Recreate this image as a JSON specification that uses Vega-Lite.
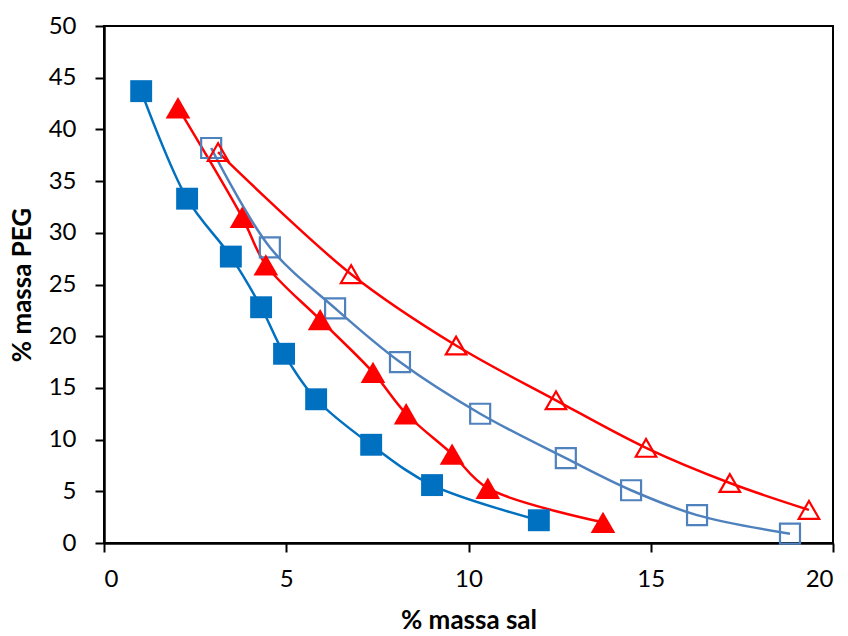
{
  "$schema": "https://vega.github.io/schema/vega-lite/v6.json",
  "width": 729,
  "height": 517,
  "autosize": {"type": "none"},
  "padding": {"left": 104, "top": 26, "right": 15, "bottom": 93},
  "background": "white",
  "config": {
    "font": "Lato",
    "view": {"stroke": "#000000", "strokeWidth": 2},
    "axis": {
      "grid": false,
      "domainColor": "#000000",
      "domainWidth": 2.5,
      "tickColor": "#000000",
      "tickWidth": 2,
      "tickSize": 9,
      "labelColor": "#000000",
      "labelFont": "Lato",
      "labelFontSize": 24,
      "titleColor": "#000000",
      "titleFont": "Lato",
      "titleFontSize": 26,
      "titleFontWeight": "bold"
    }
  },
  "data": {
    "values": [
      {"serie": "PEG A - sal (cheio)", "sal": 1.02, "peg": 43.7},
      {"serie": "PEG A - sal (cheio)", "sal": 2.28, "peg": 33.3},
      {"serie": "PEG A - sal (cheio)", "sal": 3.48, "peg": 27.7},
      {"serie": "PEG A - sal (cheio)", "sal": 4.31, "peg": 22.8},
      {"serie": "PEG A - sal (cheio)", "sal": 4.94, "peg": 18.3},
      {"serie": "PEG A - sal (cheio)", "sal": 5.82, "peg": 13.9},
      {"serie": "PEG A - sal (cheio)", "sal": 7.33, "peg": 9.5},
      {"serie": "PEG A - sal (cheio)", "sal": 9.0, "peg": 5.6},
      {"serie": "PEG A - sal (cheio)", "sal": 11.93, "peg": 2.2},
      {"serie": "PEG B - sal (cheio)", "sal": 2.03, "peg": 42.1},
      {"serie": "PEG B - sal (cheio)", "sal": 3.79, "peg": 31.5},
      {"serie": "PEG B - sal (cheio)", "sal": 4.44, "peg": 26.9},
      {"serie": "PEG B - sal (cheio)", "sal": 5.93, "peg": 21.6},
      {"serie": "PEG B - sal (cheio)", "sal": 7.38, "peg": 16.5},
      {"serie": "PEG B - sal (cheio)", "sal": 8.29, "peg": 12.5},
      {"serie": "PEG B - sal (cheio)", "sal": 9.55, "peg": 8.6},
      {"serie": "PEG B - sal (cheio)", "sal": 10.53, "peg": 5.3},
      {"serie": "PEG B - sal (cheio)", "sal": 13.69, "peg": 2.0},
      {"serie": "PEG A - sal (vazio)", "sal": 2.94, "peg": 38.2},
      {"serie": "PEG A - sal (vazio)", "sal": 4.55, "peg": 28.6},
      {"serie": "PEG A - sal (vazio)", "sal": 6.34, "peg": 22.7},
      {"serie": "PEG A - sal (vazio)", "sal": 8.12, "peg": 17.5},
      {"serie": "PEG A - sal (vazio)", "sal": 10.32, "peg": 12.5},
      {"serie": "PEG A - sal (vazio)", "sal": 12.67, "peg": 8.2},
      {"serie": "PEG A - sal (vazio)", "sal": 14.46, "peg": 5.1},
      {"serie": "PEG A - sal (vazio)", "sal": 16.27, "peg": 2.7},
      {"serie": "PEG A - sal (vazio)", "sal": 18.82, "peg": 0.9},
      {"serie": "PEG B - sal (vazio)", "sal": 3.13, "peg": 37.8},
      {"serie": "PEG B - sal (vazio)", "sal": 6.78, "peg": 26.0},
      {"serie": "PEG B - sal (vazio)", "sal": 9.66, "peg": 19.1},
      {"serie": "PEG B - sal (vazio)", "sal": 12.4, "peg": 13.8},
      {"serie": "PEG B - sal (vazio)", "sal": 14.87, "peg": 9.2},
      {"serie": "PEG B - sal (vazio)", "sal": 17.17, "peg": 5.8},
      {"serie": "PEG B - sal (vazio)", "sal": 19.34, "peg": 3.2}
    ]
  },
  "encoding": {
    "x": {
      "field": "sal", "type": "quantitative",
      "scale": {"domain": [0, 20], "nice": false, "zero": false},
      "axis": {"values": [0, 5, 10, 15, 20], "title": "% massa sal", "labelPadding": 15, "titlePadding": 16}
    },
    "y": {
      "field": "peg", "type": "quantitative",
      "scale": {"domain": [0, 50], "nice": false, "zero": false},
      "axis": {"values": [0, 5, 10, 15, 20, 25, 30, 35, 40, 45, 50], "title": "% massa PEG", "labelPadding": 19, "titlePadding": 13}
    }
  },
  "layer": [
    {
      "mark": {"type": "line", "interpolate": "catmull-rom", "strokeWidth": 2.5},
      "encoding": {
        "color": {
          "field": "serie", "type": "nominal", "legend": null,
          "scale": {
            "domain": ["PEG A - sal (cheio)", "PEG B - sal (cheio)", "PEG A - sal (vazio)", "PEG B - sal (vazio)"],
            "range": ["#0070C0", "#FF0000", "#4F81BD", "#FF0000"]
          }
        },
        "detail": {"field": "serie"}
      }
    },
    {
      "transform": [{"filter": "datum.serie === 'PEG A - sal (vazio)'"}],
      "mark": {"type": "point", "shape": "square", "size": 400, "filled": false, "stroke": "#4F81BD", "strokeWidth": 2.2, "opacity": 1}
    },
    {
      "transform": [{"filter": "datum.serie === 'PEG B - sal (vazio)'"}],
      "mark": {"type": "point", "shape": "triangle-up", "size": 420, "filled": false, "stroke": "#FF0000", "strokeWidth": 2.2, "opacity": 1}
    },
    {
      "transform": [{"filter": "datum.serie === 'PEG A - sal (cheio)'"}],
      "mark": {"type": "point", "shape": "square", "size": 480, "filled": true, "fill": "#0070C0", "opacity": 1}
    },
    {
      "transform": [{"filter": "datum.serie === 'PEG B - sal (cheio)'"}],
      "mark": {"type": "point", "shape": "triangle-up", "size": 610, "filled": true, "fill": "#FF0000", "opacity": 1}
    }
  ]
}
